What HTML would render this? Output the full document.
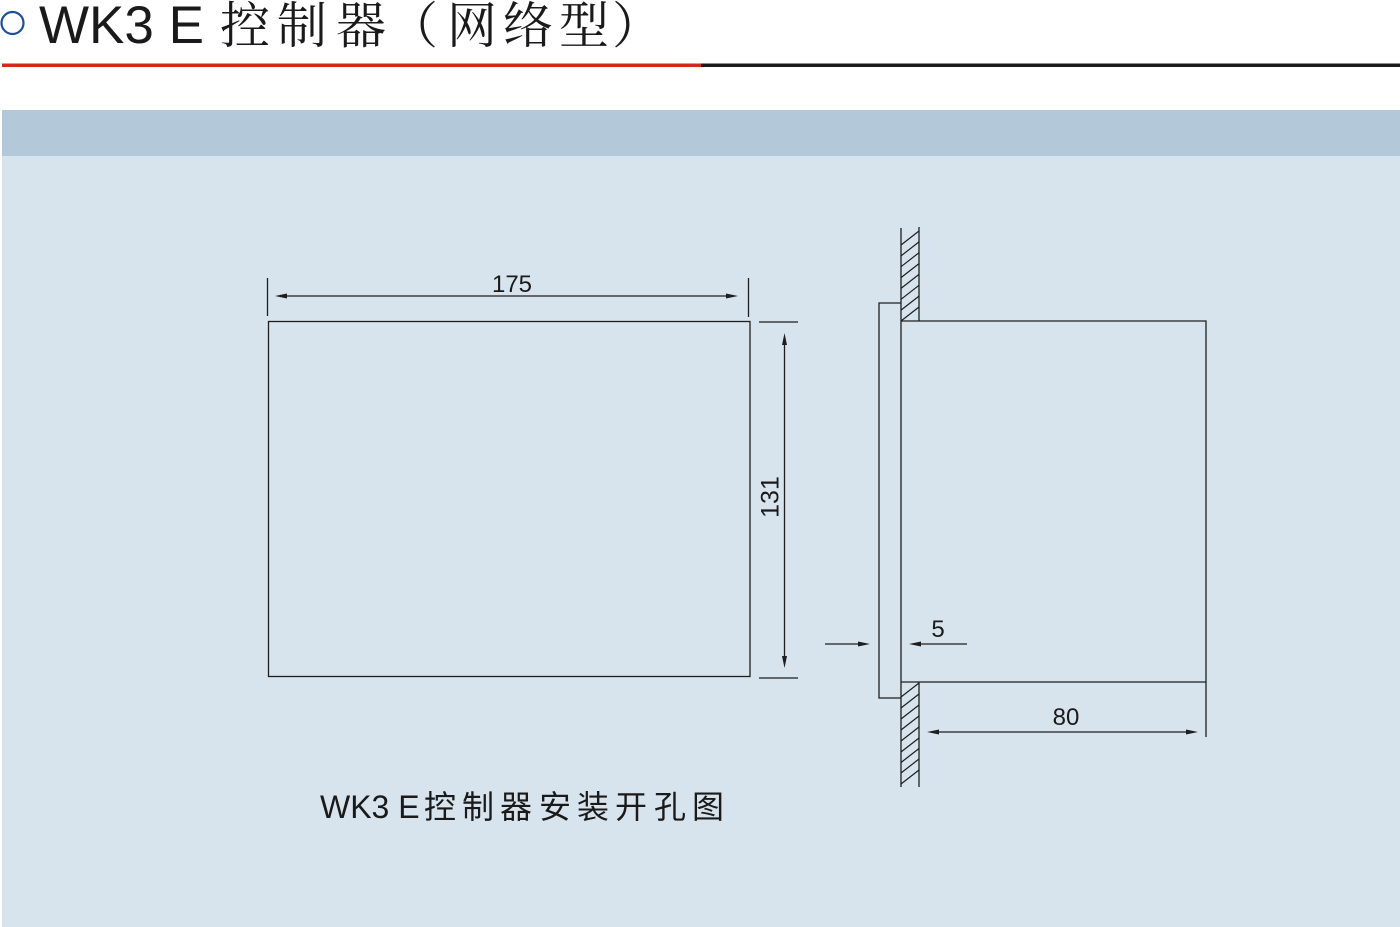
<!DOCTYPE html>
<html>
<head>
<meta charset="utf-8">
<style>
html,body{margin:0;padding:0;background:#fff;}
body{width:1400px;height:927px;overflow:hidden;position:relative;}
svg{position:absolute;left:0;top:0;}
.t{font-family:"Liberation Sans",Arial,sans-serif;fill:#1a1a1a;}
.c{font-family:"Liberation Sans","Noto Serif CJK SC",serif;fill:#1a1a1a;}
.cs{font-family:"Liberation Sans","Noto Sans CJK SC",sans-serif;fill:#1a1a1a;}
</style>
</head>
<body>
<svg width="1400" height="927" viewBox="0 0 1400 927" xmlns="http://www.w3.org/2000/svg">
  <!-- backgrounds -->
  <rect x="0" y="0" width="1400" height="927" fill="#ffffff"/>
  <rect x="2" y="110" width="1398" height="46" fill="#b3c9da"/>
  <rect x="2" y="156" width="1398" height="771" fill="#d8e4ed"/>

  <!-- header line -->
  <rect x="2" y="63.5" width="699" height="3.5" fill="#d9261c"/>
  <rect x="701" y="63.5" width="699" height="3.5" fill="#1a1a1a"/>

  <!-- title -->
  <circle cx="12.5" cy="23" r="11" fill="none" stroke="#1d4f9c" stroke-width="2.2"/>
  <text class="t" x="39" y="43" font-size="53">WK3 E</text>
  <g class="c" font-size="50">
    <text x="220" y="43">控</text>
    <text x="277" y="43">制</text>
    <text x="336" y="43">器</text>
    <text x="388" y="43">（</text>
    <text x="447" y="43">网</text>
    <text x="503" y="43">络</text>
    <text x="559" y="43">型</text>
    <text x="612" y="43">）</text>
  </g>

  <g stroke="#1e1e1e" stroke-width="1.3" fill="none">
    <!-- left rectangle -->
    <rect x="268.5" y="321.5" width="481.5" height="355"/>
    <!-- 175 extension lines -->
    <line x1="267.5" y1="278" x2="267.5" y2="316"/>
    <line x1="748.5" y1="278" x2="748.5" y2="317"/>
    <!-- 175 dim line -->
    <line x1="280" y1="296" x2="734" y2="296"/>
    <!-- 131 extension lines -->
    <line x1="759" y1="322" x2="798" y2="322"/>
    <line x1="759" y1="678" x2="798" y2="678"/>
    <!-- 131 dim line -->
    <line x1="784.5" y1="338" x2="784.5" y2="663"/>

    <!-- right drawing: wall -->
    <line x1="901" y1="228" x2="901" y2="787"/>
    <line x1="919" y1="227" x2="919" y2="321"/>
    <line x1="919" y1="682" x2="919" y2="787"/>
    <!-- box -->
    <polyline points="901,321 1206,321 1206,682 901,682"/>
    <!-- flange -->
    <polyline points="901,303 879,303 879,698 901,698"/>
    <!-- 80 ext -->
    <line x1="1206" y1="682" x2="1206" y2="737"/>
    <!-- 80 dim -->
    <line x1="932" y1="732" x2="1193" y2="732"/>
    <!-- 5 dims -->
    <line x1="825" y1="644" x2="865" y2="644"/>
    <line x1="914" y1="644" x2="967" y2="644"/>
  </g>

  <!-- hatching -->
  <g stroke="#1e1e1e" stroke-width="1.2">
    <line x1="901" y1="321" x2="919" y2="307"/>
    <line x1="901" y1="310.1" x2="919" y2="296.1"/>
    <line x1="901" y1="299.3" x2="919" y2="285.3"/>
    <line x1="901" y1="288.4" x2="919" y2="274.4"/>
    <line x1="901" y1="277.6" x2="919" y2="263.6"/>
    <line x1="901" y1="266.7" x2="919" y2="252.7"/>
    <line x1="901" y1="255.9" x2="919" y2="241.9"/>
    <line x1="901" y1="245" x2="919" y2="231"/>

    <line x1="901" y1="697" x2="919" y2="683"/>
    <line x1="901" y1="708" x2="919" y2="694"/>
    <line x1="901" y1="719" x2="919" y2="705"/>
    <line x1="901" y1="730" x2="919" y2="716"/>
    <line x1="901" y1="741" x2="919" y2="727"/>
    <line x1="901" y1="752" x2="919" y2="738"/>
    <line x1="901" y1="762.5" x2="919" y2="748.5"/>
    <line x1="901" y1="773" x2="919" y2="759"/>
    <line x1="901" y1="784" x2="919" y2="770"/>
  </g>

  <!-- arrowheads -->
  <g fill="#1e1e1e">
    <polygon points="275,296 287,293.5 287,298.5"/>
    <polygon points="738,296 726,293.5 726,298.5"/>
    <polygon points="784.5,333 782,345 787,345"/>
    <polygon points="784.5,668 782,656 787,656"/>
    <polygon points="870,644 858,641.5 858,646.5"/>
    <polygon points="909,644 921,641.5 921,646.5"/>
    <polygon points="927,732 939,729.5 939,734.5"/>
    <polygon points="1198,732 1186,729.5 1186,734.5"/>
  </g>

  <!-- dimension labels -->
  <text class="t" x="512" y="292" font-size="24" text-anchor="middle">175</text>
  <text class="t" x="0" y="0" font-size="25" text-anchor="middle" transform="translate(778.5,497) rotate(-90)">131</text>
  <text class="t" x="938" y="637" font-size="24" text-anchor="middle">5</text>
  <text class="t" x="1066" y="725" font-size="24" text-anchor="middle">80</text>

  <!-- caption -->
  <text class="t" x="320" y="818" font-size="32">WK3 E</text>
  <g class="cs" font-size="32">
    <text x="424" y="818">控</text>
    <text x="462" y="818">制</text>
    <text x="500" y="818">器</text>
    <text x="539" y="818">安</text>
    <text x="577" y="818">装</text>
    <text x="615" y="818">开</text>
    <text x="654" y="818">孔</text>
    <text x="692" y="818">图</text>
  </g>
</svg>
</body>
</html>
